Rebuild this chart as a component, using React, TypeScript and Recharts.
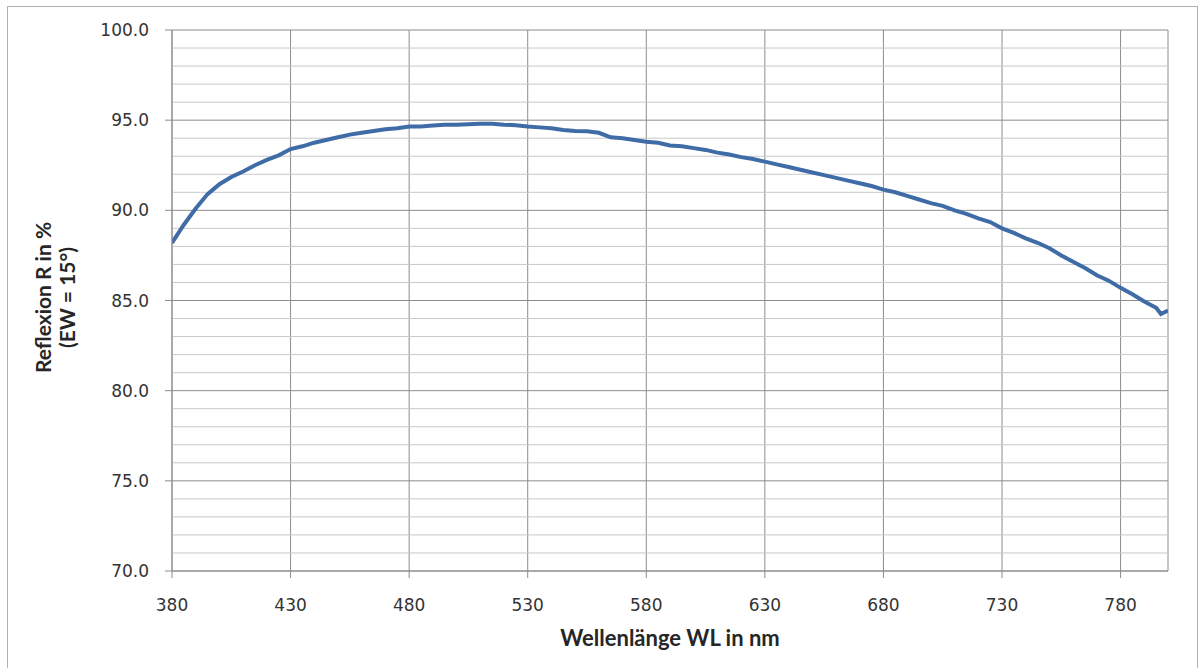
import { LineChart, Line, XAxis, YAxis, CartesianGrid, ReferenceLine } from 'recharts';

const wavelengths = [
    380, 385, 390, 395, 400, 405, 410, 415, 420, 425, 430, 435, 440, 445, 450, 455, 460, 465, 470, 475,
    480, 485, 490, 495, 500, 505, 510, 515, 520, 525, 530, 535, 540, 545, 550, 555, 560, 565, 570, 575,
    580, 585, 590, 595, 600, 605, 610, 615, 620, 625, 630, 635, 640, 645, 650, 655, 660, 665, 670, 675,
    680, 685, 690, 695, 700, 705, 710, 715, 720, 725, 730, 735, 740, 745, 750, 755, 760, 765, 770, 775,
    780, 785, 790, 795, 797, 800,
];

const reflexion = [
    88.2, 89.2, 90.1, 90.9, 91.45, 91.85, 92.15, 92.5, 92.8, 93.05, 93.4, 93.55, 93.75, 93.9, 94.05, 94.2, 94.3, 94.4, 94.5, 94.55,
    94.65, 94.65, 94.7, 94.75, 94.75, 94.78, 94.8, 94.8, 94.75, 94.72, 94.65, 94.6, 94.55, 94.45, 94.4, 94.38, 94.3, 94.05, 94.0, 93.9,
    93.8, 93.75, 93.6, 93.55, 93.45, 93.35, 93.2, 93.1, 92.95, 92.85, 92.7, 92.55, 92.4, 92.25, 92.1, 91.95, 91.8, 91.65, 91.5, 91.35,
    91.15, 91.0, 90.8, 90.6, 90.4, 90.25, 90.0, 89.8, 89.55, 89.35, 89.0, 88.75, 88.45, 88.2, 87.9, 87.5, 87.15, 86.8, 86.4, 86.1,
    85.7, 85.35, 84.95, 84.6, 84.25, 84.45,
];

const xTicks = [380, 430, 480, 530, 580, 630, 680, 730, 780];
const yTicks = [70, 75, 80, 85, 90, 95, 100];
const yMinor = [71, 72, 73, 74, 76, 77, 78, 79, 81, 82, 83, 84, 86, 87, 88, 89, 91, 92, 93, 94, 96, 97, 98, 99];

const data = wavelengths.map((wl, i) => ({ wl, r: reflexion[i] }));

const tickStyle = { fontSize: 17, fill: '#333333', fontFamily: 'DejaVu Sans' };
const titleFont = { fontFamily: 'Lato', fontWeight: 'bold', fontSize: 22, fill: '#262626' };

function YTitle({ viewBox }: any) {
    const cx = 51;
    const cy = viewBox.y + viewBox.height / 2 - 3;
    return (
        <text
            transform={`rotate(-90, ${cx}, ${cy})`}
            x={cx}
            y={cy}
            textAnchor="middle"
            fontFamily="Lato"
            fontWeight="bold"
            fontSize={21}
            fill="#262626"
        >
            <tspan x={cx} dy={0}>Reflexion R in %</tspan>
            <tspan x={cx} dy={24}>(EW = 15°)</tspan>
        </text>
    );
}

export default function App() {
    return (
        <div style={{ position: 'absolute', left: 0, top: 0, width: 1202, height: 668, background: '#fff', overflow: 'hidden' }}>
            <div
                style={{
                    position: 'absolute',
                    left: 7,
                    top: 6,
                    width: 1189,
                    height: 670,
                    border: '1px solid #b0b0b0',
                }}
            />
            <LineChart
                width={1202}
                height={668}
                data={data}
                margin={{ top: 30, right: 34, bottom: 0, left: 0 }}
                style={{ position: 'absolute', left: 0, top: 0 }}
            >
                <CartesianGrid stroke="#8c8c8c" strokeWidth={1} />
                {yMinor.map((v) => (
                    <ReferenceLine key={v} y={v} stroke="#c8c8c8" strokeWidth={1} />
                ))}
                <XAxis
                    dataKey="wl"
                    type="number"
                    domain={[380, 800]}
                    ticks={xTicks}
                    allowDataOverflow
                    height={97}
                    tick={tickStyle}
                    tickLine={{ stroke: '#8c8c8c' }}
                    axisLine={{ stroke: '#8c8c8c' }}
                    tickSize={7}
                    tickMargin={21}
                    label={{
                        value: 'Wellenlänge WL in nm',
                        position: 'insideBottom',
                        offset: 22,
                        style: titleFont,
                    }}
                />
                <YAxis
                    type="number"
                    domain={[70, 100]}
                    ticks={yTicks}
                    width={172}
                    tick={tickStyle}
                    tickFormatter={(v: number) => v.toFixed(1)}
                    tickLine={{ stroke: '#8c8c8c' }}
                    axisLine={{ stroke: '#8c8c8c' }}
                    tickSize={7}
                    tickMargin={16}
                    label={<YTitle />}
                />
                <Line
                    dataKey="r"
                    type="linear"
                    stroke="#3f6ca6"
                    strokeWidth={4}
                    dot={false}
                    isAnimationActive={false}
                />
            </LineChart>
        </div>
    );
}
